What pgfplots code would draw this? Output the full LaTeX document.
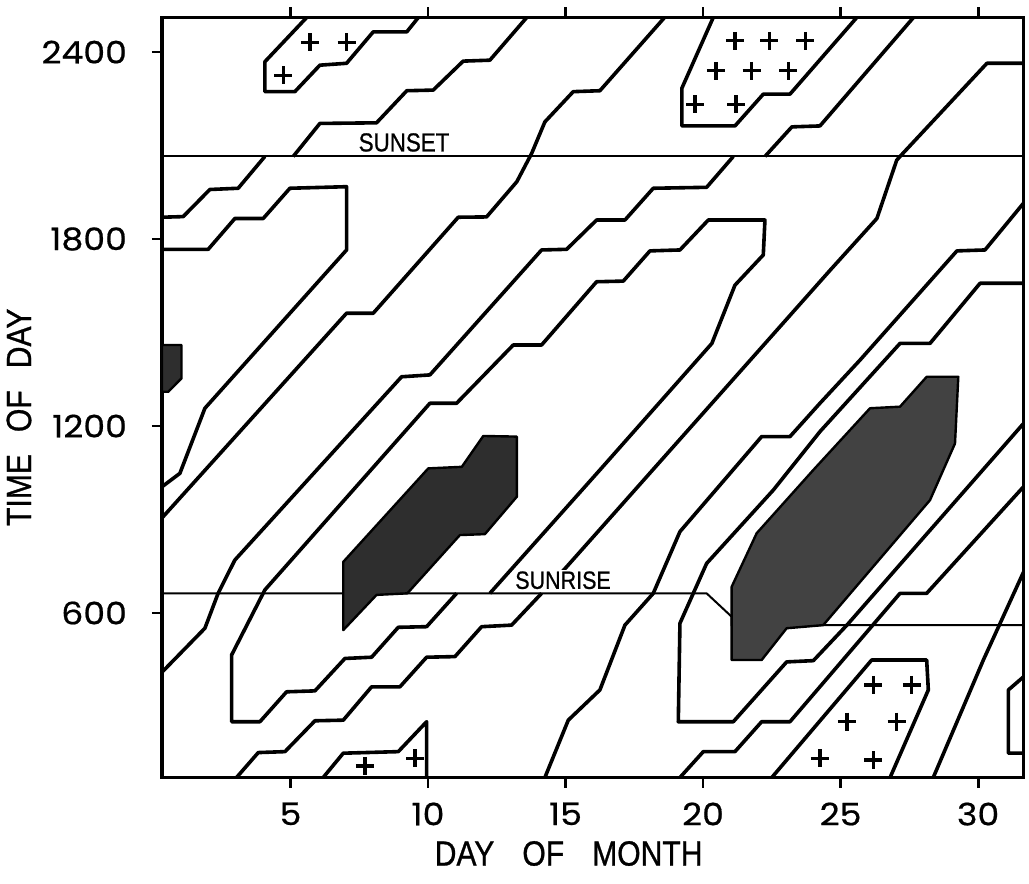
\documentclass[border=0pt]{standalone}
\usepackage{pgfplots}
\pgfplotsset{compat=1.18}
\usepackage{fontspec}
\setmainfont{Poppins}
\newfontfamily\tickfont{Poppins}[FakeStretch=1.12, FakeBold=0.6]
\newfontfamily\lblfont{Liberation Sans}[FakeStretch=0.86, FakeBold=0.8]

\pgfplotsset{
  ctr/.style={black, line width=1.8pt, line join=round},
  plus/.style={only marks, mark=+, mark size=4.5pt, mark options={black, line width=1.6pt}},
  shade/.style={fill=black!82, draw=black, line width=1.2pt, line join=round},
}

\begin{document}
\begin{tikzpicture}
\useasboundingbox (-81pt,-53.25pt) rectangle (433.5pt,388.75pt);
\begin{axis}[
  at={(0,0)}, anchor=south west,
  scale only axis, width=430.75pt, height=380pt,
  xmin=0.33, xmax=31.65, ymin=72, ymax=2511,
  xtick={5,10,15,20,25,30}, xticklabels={5,10,15,20,25,30},
  ytick={600,1200,1800,2400}, yticklabels={600,1200,1800,2400},
  xtick pos=both, ytick pos=left, tick align=outside,
  major tick length=5pt,
  every tick/.style={black, line width=1.4pt},
  axis line style={line width=1.9pt},
  ticklabel style={font=\tickfont\fontsize{15.5}{15.5}\selectfont},
  xticklabel style={yshift=-4pt},
  yticklabel style={xshift=-9pt},
  /pgf/number format/assume math mode=true,
  xlabel={DAY\hspace{14pt}OF\hspace{14pt}MONTH},
  ylabel={TIME\hspace{11pt}OF\hspace{11pt}DAY},
  label style={font=\lblfont\fontsize{17.5}{17.5}\selectfont},
  xlabel style={at={(axis description cs:0.472,-0.1)}, anchor=center},
  ylabel style={at={(axis description cs:-0.166,0.474)}, anchor=center},
]

% contour lines above sunset
\addplot[ctr] coordinates {(5.59,2511)(4.07,2369)(4.07,2273)(5.16,2273)(6.07,2358)(7.04,2364)(8.01,2465)(9.23,2465)(9.65,2511)};
\addplot[ctr] coordinates {(13.59,2511)(12.25,2374)(11.28,2371)(10.19,2278)(9.23,2276)(8.13,2173)(6.07,2171)(5.10,2065)};
\addplot[ctr] coordinates {(4.07,2065)(3.10,1963)(2.07,1959)(1.10,1872)(0.33,1870)};
\addplot[ctr] coordinates {(18.6,2511)(16.25,2276)(15.28,2273)(14.25,2176)(13.77,2075)(13.23,1984)(12.13,1871)(11.10,1870)(8.01,1562)(7.04,1562)(0.33,905)};
\addplot[ctr] coordinates {(0.33,1767)(2.01,1767)(2.98,1866)(4.01,1866)(4.98,1963)(7.04,1968)(7.04,1765)(1.89,1257)(0.98,1048)(0.33,1005)};
\addplot[ctr] coordinates {(20.37,2511)(19.23,2284)(19.23,2163)(21.16,2163)(22.19,2265)(23.16,2265)(25.59,2511)};
\addplot[ctr] coordinates {(27.65,2511)(24.25,2163)(23.23,2160)(22.25,2065)};
\addplot[ctr] coordinates {(21.10,2065)(20.13,1966)(18.19,1963)(17.16,1861)(16.13,1861)(15.04,1767)(14.13,1765)(10.07,1364)(9.04,1358)(2.98,770)(2.37,663)(1.89,551)(0.33,410)};
\addplot[ctr] coordinates {(31.65,2364)(30.32,2364)(27.16,2065)(27.04,2053)(26.32,1866)(24.62,1700)(15.04,748)(14.80,725)};

% the long U-shaped contour
\addplot[ctr] coordinates {(11.04,663)(9.95,556)(8.92,554)(7.95,458)(6.98,454)(5.89,350)(4.86,347)(3.89,251)(2.86,251)(2.86,465)(4.07,674)(10.07,1273)(11.04,1273)(13.10,1460)(14.13,1460)(16.13,1663)(17.10,1665)(18.07,1762)(19.16,1765)(20.19,1861)(22.25,1861)(22.19,1749)(21.16,1652)(20.32,1465)(16.25,1059)(12.25,663)};

% contours below sunrise and on the right
\addplot[ctr] coordinates {(14.13,663)(13.04,561)(11.95,556)(10.98,460)(9.95,458)(8.98,363)(7.95,363)(6.92,256)(5.89,254)(4.80,155)(3.83,152)(3.04,72)};
\addplot[ctr] coordinates {(31.65,1915)(30.25,1765)(29.23,1762)(25.71,1412)(24.25,1273)(23.16,1166)(22.13,1166)(19.16,861)(18.19,663)(17.16,561)(16.25,353)(15.10,256)(14.25,72)};
\addplot[ctr] coordinates {(31.65,1658)(30.07,1658)(28.25,1465)(27.16,1465)(24.25,1182)(22.56,995)(20.13,759)(19.16,567)(19.10,251)(21.10,251)(23.04,443)(24.01,447)(25.23,561)(31.65,1208)};
\addplot[ctr] coordinates {(19.16,72)(20.01,155)(21.16,155)(22.13,251)(23.16,251)(27.16,663)(28.13,663)(31.65,1005)};
\addplot[ctr] coordinates {(31.65,731)(30.19,449)(28.37,72)};
\addplot[ctr] coordinates {(22.50,72)(26.13,449)(28.13,449)(28.19,353)(26.80,72)};
\addplot[ctr] coordinates {(6.19,72)(6.92,150)(8.92,155)(9.95,251)(9.95,72)};
\addplot[ctr] coordinates {(31.65,395)(31.10,353)(31.10,150)(31.65,150)};

% sunset and sunrise
\addplot[black, line width=1pt] coordinates {(0.33,2065)(31.65,2065)};
\addplot[black, line width=1pt] coordinates {(0.33,663)(20.13,663)(21.04,588)(21.04,561)(31.65,561)};

% shaded maxima
\addplot[shade] coordinates {(6.92,764)(10.01,1064)(11.23,1069)(12.01,1168)(13.23,1166)(13.23,973)(12.07,853)(11.16,850)(9.25,663)(8.13,658)(6.92,545)} -- cycle;
\addplot[shade, fill=black!74] coordinates {(28.13,1358)(29.28,1358)(29.16,1144)(28.25,962)(24.37,561)(23.04,551)(22.13,449)(21.04,449)(21.04,684)(21.95,856)(24.01,1059)(26.07,1257)(27.16,1262)} -- cycle;
\addplot[shade] coordinates {(0.33,1460)(1.04,1460)(1.04,1353)(0.56,1310)(0.33,1310)} -- cycle;

% minima
\addplot[plus] coordinates {(5.71,2431)(7.04,2431)(4.74,2326)};
\addplot[plus] coordinates {(21.16,2436)(22.41,2436)(23.71,2436)(20.47,2340)(21.77,2340)(23.10,2340)(19.71,2233)(21.2,2233)};
\addplot[plus] coordinates {(26.19,369)(27.59,369)(25.23,251)(27.04,251)(24.25,134)(26.19,128)};
\addplot[plus] coordinates {(7.71,109)(9.53,134)};

\node[font=\lblfont\fontsize{13}{13}\selectfont] at (axis cs:9.13,2110) {SUNSET};
\node[font=\lblfont\fontsize{12.5}{12.5}\selectfont, fill=white, inner sep=0.6pt] at (axis cs:14.91,705) {SUNRISE};
\end{axis}
\end{tikzpicture}
\end{document}
